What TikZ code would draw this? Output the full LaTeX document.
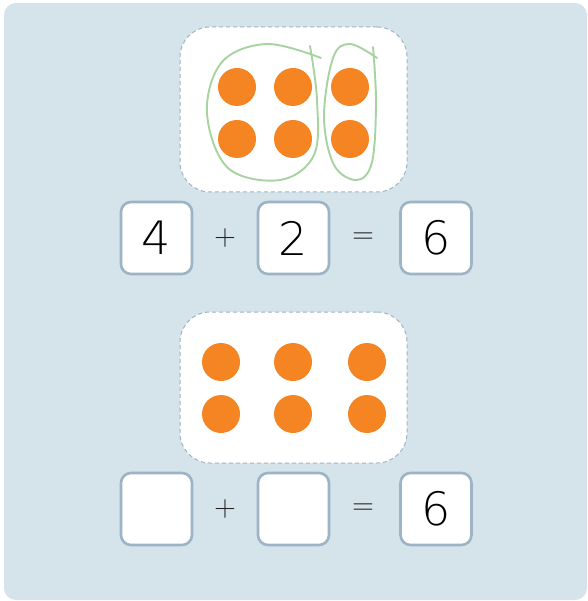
\documentclass[tikz,border=0pt]{standalone}
\usepackage{fontspec}
\newfontfamily\hand{DejaVu Sans ExtraLight}
\usetikzlibrary{positioning}
\definecolor{panel}{HTML}{D5E3EA}
\definecolor{frame}{HTML}{9CB4C6}
\definecolor{dot}{HTML}{F58423}
\definecolor{loop}{HTML}{A6D3A0}
\definecolor{ink}{HTML}{222222}

\begin{document}
\begin{tikzpicture}[x=1pt,y=-1pt,every node/.style={inner sep=0pt},
 grp/.style={draw=frame,line width=1pt,dash pattern=on 4pt off 3pt,fill=white,rounded corners=30pt,minimum width=227pt},
 nb/.style={draw=frame,line width=2.6pt,fill=white,rounded corners=10pt,minimum width=71pt,minimum height=72pt,font=\hand\fontsize{46}{46}\selectfont,text=black},
 op/.style={font=\sffamily\fontsize{30}{30}\selectfont,text=ink},
 dt/.style={circle,fill=dot,minimum size=38pt},
 lp/.style={draw=loop,line width=1.9pt,line cap=round}]
\useasboundingbox (0,0) rectangle (587,601);
\fill[panel,rounded corners=12pt] (4,3) rectangle (587,600);
% top group
\node[grp,minimum height=165pt] (g1) at (293.5,109.5) {};
\node[dt] (a1) at (237,87) {};\node[dt] (a2) at (293,87) {};\node[dt] (a3) at (350,87) {};
\node[dt] (a4) at (237,139) {};\node[dt] (a5) at (293,139) {};\node[dt] (a6) at (350,139) {};
\draw[lp] plot[smooth,tension=0.6] coordinates {(310,46) (317,100) (314,155) (280,180) (228,168) (207,113) (222,62) (267,44) (321,58)};
\draw[lp] plot[smooth,tension=0.6] coordinates {(373,47) (376,103) (372,162) (357,180) (334,165) (324,117) (333,58) (350,44) (377,58)};
\node[nb] (n1) at (156.5,238) {4};
\node[op] (p1) at (225,238) {+};
\node[nb] (n2) at (293.5,238) {2};
\node[op] (q1) at (363,238) {=};
\node[nb] (n3) at (436,238) {6};
% bottom group
\node[grp,minimum height=151pt] (g2) at (293.5,387.5) {};
\node[dt] (b1) at (221,362) {};\node[dt] (b2) at (293,362) {};\node[dt] (b3) at (367,362) {};
\node[dt] (b4) at (221,414) {};\node[dt] (b5) at (293,414) {};\node[dt] (b6) at (367,414) {};
\node[nb] (m1) at (156.5,509) {};
\node[op] (p2) at (225,509) {+};
\node[nb] (m2) at (293.5,509) {};
\node[op] (q2) at (363,509) {=};
\node[nb] (m3) at (436,509) {6};
\end{tikzpicture}
\end{document}
